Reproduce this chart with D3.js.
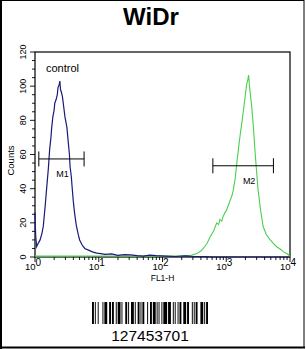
<!DOCTYPE html>
<html><head><meta charset="utf-8">
<script src="https://cdn.jsdelivr.net/npm/d3@7"></script>
<style>body{margin:0;background:#fff}svg{display:block}</style>
</head><body>
<script>
// ---- data ----
const title = "WiDr";
const yTicks = [0, 20, 40, 60, 80, 100, 120];
const xDecades = [0, 1, 2, 3, 4];
// control histogram (log10 FL1-H, counts)
const controlLog = [0.00,0.005,0.012,0.026,0.05,0.08,0.11,0.13,0.16,0.18,0.21,0.23,0.25,0.26,0.28,0.30,0.31,0.33,0.35,0.36,0.38,0.39,0.40,0.41,0.43,0.45,0.47,0.50,0.52,0.54,0.55,0.57,0.58,0.60,0.62,0.65,0.68,0.70,0.74,0.78,0.84,0.90,0.97,1.03,1.1,1.2,1.3,1.4,1.5,1.6,1.7,1.8,1.9,2.05,2.2,2.35,2.5,2.65,2.8,4.0];
const controlCnt = [26,18,12,6,8,10,14,18,30,39,52,63,70,75,82,86,90,92,95,99,101,103,98,97,94,88,82,76,68,60,53,47,42,33,26,18,13,10,7,5,4,3,2.3,2,1.5,1.8,1,1.4,1.2,0.8,0.5,1.1,0.8,0.5,0.3,0.6,0.3,0.2,0,0];
// sample histogram
const sampleLog = [0.0,0.5,1.0,1.5,2.0,2.3,2.45,2.54,2.6,2.64,2.7,2.75,2.8,2.83,2.85,2.88,2.9,2.93,2.95,2.98,3.0,3.03,3.06,3.09,3.11,3.14,3.16,3.19,3.22,3.25,3.27,3.30,3.32,3.34,3.35,3.37,3.40,3.43,3.45,3.48,3.50,3.54,3.58,3.63,3.69,3.74,3.79,3.85,3.90,3.95,3.98,4.0];
const sampleCnt = [0.5,0.5,0.6,0.5,0.5,0.6,1,2,3.5,5,8,12,15,18,20,19,22,21,23.6,26,27,30,33,36,39,46,53,63,72,80,86,95,101,104,106.5,98,88,74,62.6,48,39,27,17.7,13,10,8,6,4.5,3,2,1.2,0];
// gates (log10 start, log10 end, counts level)
const gateNames = ["M1", "M2"];
const gateStart = [0.06, 2.79];
const gateEnd = [0.77, 3.74];
const gateLevel = [57.4, 53.4];
const barcodeText = "127453701";
const barcodeWidths = [2,1,1,2,1,4,1,1,3,2,2,1,2,2,1,1,3,1,1,3,2,1,1,2,3,1,1,2,2,1,1,1,2,3,1,2,2,1,3,1,1,1,1,2,1,1,4,1,3,2,1,1,1,2,1,1,2,2,3,1,2,3,1,1,1,1,2,3,3,1,1,1,2];

// ---- layout ----
const W = 306, H = 349;
const svg = d3.select("body").append("svg").attr("width", W).attr("height", H);
const L = 35, R = 290, T = 52, B = 257;
const x = d3.scaleLinear().domain([0, 4]).range([L, R]);
const y = d3.scaleLinear().domain([0, 120]).range([B, T]);
const font = "'Liberation Sans', Arial, sans-serif";

// outer frame
svg.append("rect").attr("x", 0.5).attr("y", 0.5).attr("width", 303.5).attr("height", 347)
  .attr("fill", "none").attr("stroke", "#000").attr("stroke-width", 1);
svg.append("line").attr("x1", 1).attr("x2", 1).attr("y1", 0).attr("y2", 349).attr("stroke", "#000").attr("stroke-width", 2);
svg.append("line").attr("x1", 0).attr("x2", 305).attr("y1", 347.5).attr("y2", 347.5).attr("stroke", "#000").attr("stroke-width", 2);

// title
svg.append("text").attr("x", 151).attr("y", 25).attr("text-anchor", "middle")
  .attr("font-family", font).attr("font-weight", "bold").attr("font-size", 24).text(title);

// plot frame
svg.append("rect").attr("x", L).attr("y", T).attr("width", R - L).attr("height", B - T)
  .attr("fill", "none").attr("stroke", "#000").attr("stroke-width", 1.2);

// curves
const line = d3.line().x(d => x(d[0])).y(d => y(d[1]));
svg.append("path").datum(sampleLog.map((v, i) => [v, sampleCnt[i]]))
  .attr("d", line).attr("fill", "none").attr("stroke", "#4ccf4c").attr("stroke-width", 1.1);
svg.append("path").datum(controlLog.map((v, i) => [v, controlCnt[i]]))
  .attr("d", line).attr("fill", "none").attr("stroke", "#1a1a78").attr("stroke-width", 1.2);

// y axis
const yMinor = d3.range(0, 121, 5);
svg.selectAll(".ym").data(yMinor).enter().append("line")
  .attr("x1", L).attr("x2", d => L - (d % 20 === 0 ? 5 : 3))
  .attr("y1", d => y(d)).attr("y2", d => y(d)).attr("stroke", "#000").attr("stroke-width", 0.9);
svg.selectAll(".yl").data(yTicks).enter().append("text")
  .attr("transform", d => `translate(26,${y(d)}) rotate(-90)`)
  .attr("text-anchor", "middle").attr("font-family", font).attr("font-size", 9).text(d => d);
svg.append("text").attr("transform", `translate(14,${(T + B) / 2 + 6}) rotate(-90)`)
  .attr("text-anchor", "middle").attr("font-family", font).attr("font-size", 9.5).text("Counts");

// x axis (log)
const xMinor = [];
for (let d = 0; d < 4; d++) for (let k = 2; k <= 9; k++) xMinor.push(d + Math.log10(k));
svg.selectAll(".xm").data(xMinor).enter().append("line")
  .attr("x1", d => x(d)).attr("x2", d => x(d)).attr("y1", B).attr("y2", B + 3)
  .attr("stroke", "#000").attr("stroke-width", 0.9);
svg.selectAll(".xM").data(xDecades).enter().append("line")
  .attr("x1", d => x(d)).attr("x2", d => x(d)).attr("y1", B).attr("y2", B + 5)
  .attr("stroke", "#000").attr("stroke-width", 0.9);
const xl = svg.selectAll(".xl").data(xDecades).enter().append("text")
  .attr("x", d => x(d) - 2).attr("y", 270).attr("text-anchor", "middle")
  .attr("font-family", font).attr("font-size", 9.5);
xl.append("tspan").text("10");
xl.append("tspan").attr("dy", -4).attr("font-size", 10).text(d => d);
svg.append("text").attr("x", x(2)).attr("y", 281).attr("text-anchor", "middle")
  .attr("font-family", font).attr("font-size", 8.5).text("FL1-H");

// control label
svg.append("text").attr("x", 46).attr("y", 72).attr("font-family", font).attr("font-size", 11).text("control");

// gates
gateNames.forEach((nm, i) => {
  const g = svg.append("g").attr("stroke", "#000").attr("stroke-width", 1);
  const yy = y(gateLevel[i]);
  g.append("line").attr("x1", x(gateStart[i])).attr("x2", x(gateEnd[i])).attr("y1", yy).attr("y2", yy);
  g.append("line").attr("x1", x(gateStart[i])).attr("x2", x(gateStart[i])).attr("y1", yy - 7.5).attr("y2", yy + 7.5);
  g.append("line").attr("x1", x(gateEnd[i])).attr("x2", x(gateEnd[i])).attr("y1", yy - 7.5).attr("y2", yy + 7.5);
  svg.append("text").attr("x", (x(gateStart[i]) + x(gateEnd[i])) / 2 + (i === 0 ? 1 : 6)).attr("y", yy + 18)
    .attr("text-anchor", "middle").attr("font-family", font).attr("font-size", 9).text(nm);
});

// barcode
const bx0 = 92, bx1 = 208, by0 = 302, by1 = 324;
const total = d3.sum(barcodeWidths);
const bs = d3.scaleLinear().domain([0, total]).range([bx0, bx1]);
let acc = 0;
const bars = [];
barcodeWidths.forEach((w, i) => { if (i % 2 === 0) bars.push([acc, w]); acc += w; });
svg.selectAll(".bc").data(bars).enter().append("rect")
  .attr("x", d => bs(d[0])).attr("width", d => bs(d[0] + d[1]) - bs(d[0]))
  .attr("y", by0).attr("height", by1 - by0).attr("fill", "#000");
svg.append("text").attr("x", 150).attr("y", 341).attr("text-anchor", "middle")
  .attr("font-family", font).attr("font-size", 15.5).text(barcodeText);
</script>
</body></html>
